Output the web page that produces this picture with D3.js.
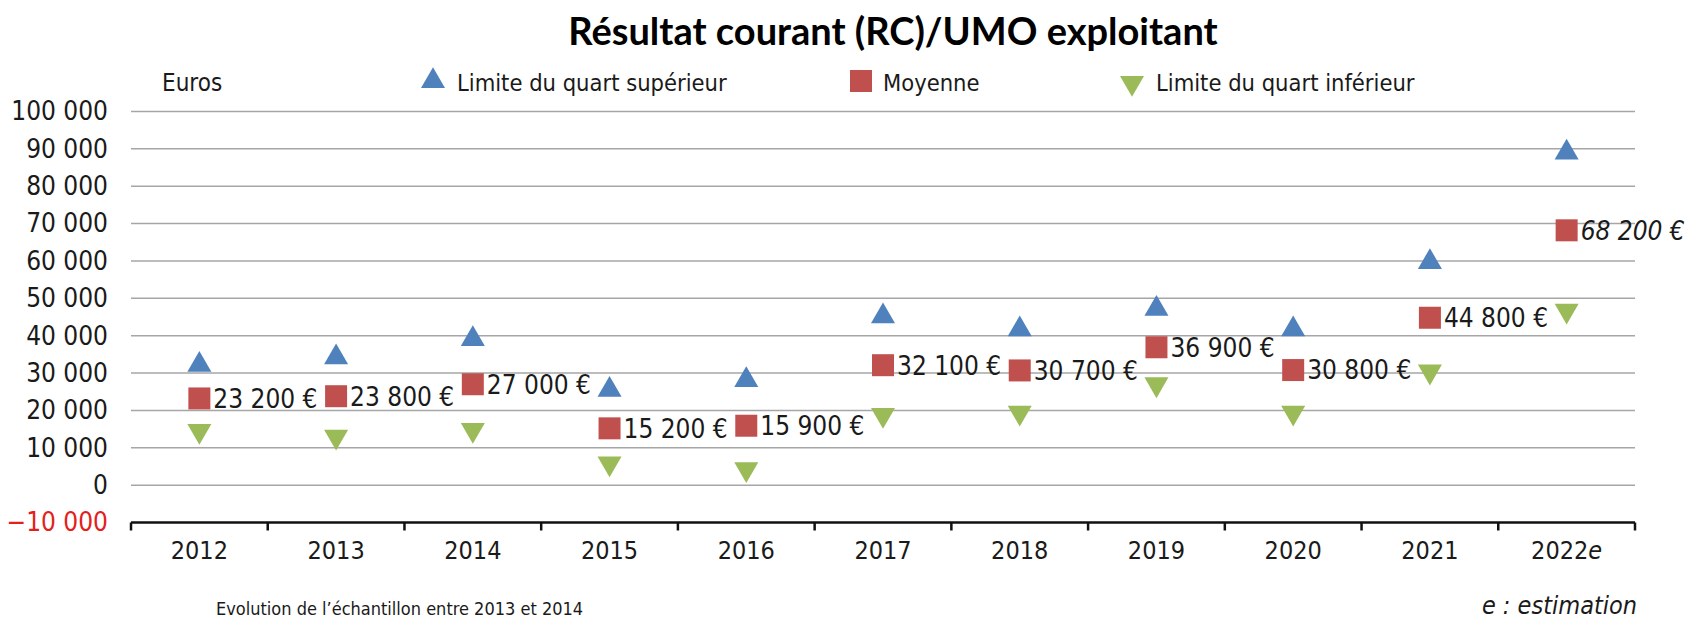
<!DOCTYPE html>
<html>
<head>
<meta charset="utf-8">
<script src="https://cdn.jsdelivr.net/npm/d3@7"></script>
<style>
  body { margin: 0; background: #fff; }
  svg text { font-family: "Liberation Sans Narrow", "DejaVu Sans Condensed", "Liberation Sans", sans-serif; fill: #1a1a1a; }
</style>
</head>
<body>
<div class="container"></div>
<script>
const years = ["2012", "2013", "2014", "2015", "2016", "2017", "2018", "2019", "2020", "2021", "2022"]
const upper = [32200, 34200, 39100, 25500, 28100, 45200, 41700, 47200, 41700, 59700, 89000]
const mean = [23200, 23800, 27000, 15200, 15900, 32100, 30700, 36900, 30800, 44800, 68200]
const lower = [14500, 13000, 14800, 5800, 4300, 18800, 19400, 27000, 19400, 30400, 46700]
const yTicks = [-10000, 0, 10000, 20000, 30000, 40000, 50000, 60000, 70000, 80000, 90000, 100000]

const w = 1697
const h = 619
const left = 131
const right = 1635
const yTop = 111.5
const yBottom = 522.5

const blue = '#4f81bd'
const red = '#c0504d'
const green = '#9bbb59'

const fr = d3.formatLocale({ decimal: ',', thousands: '\u00a0', grouping: [3], currency: ['', ''] })
const fmt = fr.format(',d')

const xScale = d3.scaleBand().domain(years).range([left, right])
const yScale = d3.scaleLinear().domain([-10000, 100000]).range([yBottom, yTop])

const svg = d3.select('.container')
  .append('svg')
  .attr('width', w)
  .attr('height', h)

svg.append('text')
  .attr('x', 893)
  .attr('y', 45)
  .attr('text-anchor', 'middle')
  .style('font-family', 'Lato, "Open Sans", sans-serif')
  .style('font-weight', 'bold')
  .style('font-size', '38px')
  .style('fill', '#000')
  .text('Résultat courant (RC)/UMO exploitant')

// gridlines
svg.append('g')
  .selectAll('line')
  .data(yTicks.filter((d) => d >= 0))
  .enter()
  .append('line')
  .attr('x1', left)
  .attr('x2', right)
  .attr('y1', (d) => yScale(d))
  .attr('y2', (d) => yScale(d))
  .attr('stroke', '#a6a6a6')
  .attr('stroke-width', 1.5)

// y axis labels
const yAxis = d3.axisLeft(yScale).tickValues(yTicks).tickSize(0).tickPadding(0).tickFormat(fmt)
const yg = svg.append('g')
  .attr('transform', 'translate(108,0)')
  .call(yAxis)
yg.select('.domain').remove()
yg.selectAll('text')
  .style('font-size', '26px')
  .style('fill', (d) => d < 0 ? '#e3201b' : '#1a1a1a')

// x axis
const xAxis = d3.axisBottom(xScale).tickSize(0).tickPadding(19)
const xg = svg.append('g')
  .attr('transform', 'translate(0,' + yBottom + ')')
  .call(xAxis)
xg.select('.domain').remove()
xg.selectAll('text').style('font-size', '25px')
xg.selectAll('.tick').filter((d) => d === '2022').select('text')
  .append('tspan').style('font-style', 'italic').text('e')

svg.append('line')
  .attr('x1', left).attr('x2', right)
  .attr('y1', yBottom).attr('y2', yBottom)
  .attr('stroke', '#111').attr('stroke-width', 2.5)

svg.append('g')
  .selectAll('line')
  .data(years.map((d) => xScale(d)).concat([right]))
  .enter()
  .append('line')
  .attr('x1', (d) => d).attr('x2', (d) => d)
  .attr('y1', yBottom).attr('y2', yBottom + 8)
  .attr('stroke', '#111').attr('stroke-width', 2.5)

const cx = (i) => xScale(years[i]) + xScale.bandwidth() / 2
const tri = d3.symbol().type(d3.symbolTriangle).size(250)
const sq = d3.symbol().type(d3.symbolSquare).size(484)

svg.append('g')
  .selectAll('path')
  .data(upper)
  .enter()
  .append('path')
  .attr('d', tri)
  .attr('transform', (d, i) => 'translate(' + cx(i) + ',' + yScale(d) + ')')
  .attr('fill', blue)

svg.append('g')
  .selectAll('path')
  .data(lower)
  .enter()
  .append('path')
  .attr('d', tri)
  .attr('transform', (d, i) => 'translate(' + cx(i) + ',' + yScale(d) + ') rotate(180)')
  .attr('fill', green)

svg.append('g')
  .selectAll('path')
  .data(mean)
  .enter()
  .append('path')
  .attr('d', sq)
  .attr('transform', (d, i) => 'translate(' + cx(i) + ',' + yScale(d) + ')')
  .attr('fill', red)

svg.append('g')
  .selectAll('text')
  .data(mean)
  .enter()
  .append('text')
  .attr('x', (d, i) => cx(i) + 14)
  .attr('y', (d) => yScale(d))
  .attr('dy', '0.36em')
  .style('font-size', '26px')
  .style('font-style', (d, i) => i === years.length - 1 ? 'italic' : 'normal')
  .text((d) => fmt(d) + '\u00a0€')

// legend
svg.append('text').attr('x', 162).attr('y', 91).style('font-size', '24px').text('Euros')
svg.append('path').attr('d', tri).attr('transform', 'translate(433,81)').attr('fill', blue)
svg.append('text').attr('x', 457).attr('y', 91).style('font-size', '23.5px').text('Limite du quart supérieur')
svg.append('path').attr('d', sq).attr('transform', 'translate(861,81)').attr('fill', red)
svg.append('text').attr('x', 883).attr('y', 91).style('font-size', '23.5px').text('Moyenne')
svg.append('path').attr('d', tri).attr('transform', 'translate(1132,83) rotate(180)').attr('fill', green)
svg.append('text').attr('x', 1156).attr('y', 91).style('font-size', '23.5px').text('Limite du quart inférieur')

svg.append('text').attr('x', 216).attr('y', 615).style('font-size', '18px').text('Evolution de l\u2019échantillon entre 2013 et 2014')
svg.append('text').attr('x', 1637).attr('y', 614).attr('text-anchor', 'end')
  .style('font-size', '25px').style('font-style', 'italic').text('e : estimation')
</script>
</body>
</html>
